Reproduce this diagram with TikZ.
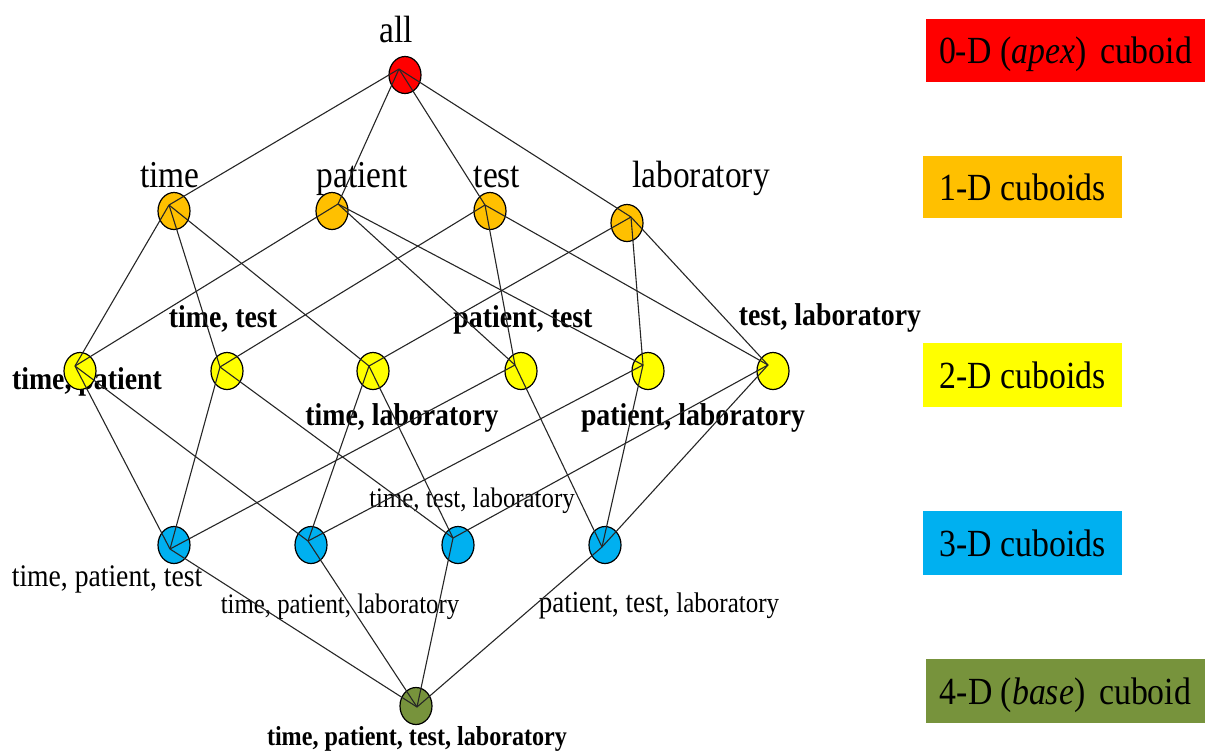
\documentclass[tikz,border=0pt]{standalone}
\usepackage{fontspec}
\setmainfont{Liberation Serif}
\usetikzlibrary{shapes.geometric}

\definecolor{apexred}{HTML}{FF0000}
\definecolor{onedorange}{HTML}{FFC000}
\definecolor{twodyellow}{HTML}{FFFF00}
\definecolor{threedblue}{HTML}{00B0F0}
\definecolor{fourdgreen}{HTML}{77933C}

% slightly condensed lettering
\newcommand{\narrow}[1]{\scalebox{0.88}[1]{#1}}
\newcommand{\fs}[1]{\fontsize{#1}{#1}\selectfont}

\tikzset{
  cub/.style={ellipse, draw=black, line width=0.6pt, inner sep=0pt,
              minimum width=16pt, minimum height=18.5pt},
  lnk/.style={draw=black!85, line width=0.55pt},
  lab/.style={anchor=base, inner sep=0pt},
  labA/.style={lab, font=\fs{19}},
  labB/.style={lab, font=\fs{15.8}\bfseries},
  labC/.style={lab, font=\fs{14.1}},
  legbox/.style={rectangle, inner sep=0pt, text height=13pt, text depth=0pt,
                 font=\fs{19.2}},
}

\begin{document}
\begin{tikzpicture}[x=0.5pt, y=-0.5pt]
\useasboundingbox (0,0) rectangle (1205,752);

% ---- labels (drawn first, lattice lies on top) ----
\node[labA] (a-lab) at (396,42) {\narrow{all}};
\node[labA] (t-lab) at (170,187) {\narrow{time}};
\node[labA] (p-lab) at (362,187) {\narrow{patient}};
\node[labA] (s-lab) at (497,187) {\narrow{test}};
\node[labA] (l-lab) at (701,187) {\narrow{laboratory}};

\node[labB] (tp-lab) at (87,389) {\narrow{time, patient}};
\node[labB] (ts-lab) at (223,327) {\narrow{time, test}};
\node[labB] (ps-lab) at (523,327) {\narrow{patient, test}};
\node[labB] (sl-lab) at (830,325) {\narrow{test, laboratory}};
\node[labB] (tl-lab) at (402,425) {\narrow{time, laboratory}};
\node[labB] (pl-lab) at (693,425) {\narrow{patient, laboratory}};

\node[labC] (tsl-lab) at (472,507) {\narrow{time, test, laboratory}};
\node[lab, font=\fs{15.7}] (tps-lab) at (107,586) {\narrow{time, patient, test}};
\node[labC] (tpl-lab) at (340,613) {\narrow{time, patient, laboratory}};
\node[lab] (psl-lab) at (659,612)
  {\narrow{\fs{15.3}patient, test, \fs{14.2}laboratory}};
\node[lab, font=\fs{13.7}\bfseries] (b-lab) at (417,745)
  {\narrow{time, patient, test, laboratory}};

% ---- cuboids ----
\node[cub, fill=apexred] (a) at (405,75) {};

\node[cub, fill=onedorange] (t) at (174,211) {};
\node[cub, fill=onedorange] (p) at (332,211) {};
\node[cub, fill=onedorange] (s) at (490,211) {};
\node[cub, fill=onedorange] (l) at (627,223) {};

\node[cub, fill=twodyellow] (tp) at (80,371) {};
\node[cub, fill=twodyellow] (ts) at (227,371) {};
\node[cub, fill=twodyellow] (tl) at (373,371) {};
\node[cub, fill=twodyellow] (ps) at (521,371) {};
\node[cub, fill=twodyellow] (pl) at (648,371) {};
\node[cub, fill=twodyellow] (sl) at (773,371) {};

\node[cub, fill=threedblue] (tps) at (174,545) {};
\node[cub, fill=threedblue] (tpl) at (311,545) {};
\node[cub, fill=threedblue] (tsl) at (458,545) {};
\node[cub, fill=threedblue] (psl) at (605,545) {};

\node[cub, fill=fourdgreen] (b) at (416,706) {};

% points inside each cuboid where its links meet
\coordinate (a-h) at (399,69);
\coordinate (t-h) at (169,205);
\coordinate (p-h) at (338,204);
\coordinate (s-h) at (485,205);
\coordinate (l-h) at (631,217);
\coordinate (tp-h) at (75,366);
\coordinate (ts-h) at (220,367);
\coordinate (tl-h) at (369,366);
\coordinate (ps-h) at (515,365);
\coordinate (pl-h) at (643,365);
\coordinate (sl-h) at (768,365);
\coordinate (tps-h) at (170,549);
\coordinate (tpl-h) at (308,541);
\coordinate (tsl-h) at (453,538);
\coordinate (psl-h) at (602,547);
\coordinate (b-h) at (417,707);

% ---- lattice links ----
\foreach \u/\v in {a/t, a/p, a/s, a/l,
                   t/tp, t/ts, t/tl,
                   p/tp, p/ps, p/pl,
                   s/ts, s/ps, s/sl,
                   l/tl, l/pl, l/sl,
                   tp/tps, tp/tpl,
                   ts/tps, ts/tsl,
                   tl/tpl, tl/tsl,
                   ps/tps, ps/psl,
                   pl/tpl, pl/psl,
                   sl/tsl, sl/psl,
                   tps/b, tpl/b, tsl/b, psl/b}
  \draw[lnk] (\u-h) -- (\v-h);

% ---- legend ----
\node[legbox, fill=apexred, minimum width=139.5pt, minimum height=31.5pt]
  (leg0) at (1065.5,50.5) {\narrow{0-D (\textit{apex})\hspace{3pt} cuboid}};
\node[legbox, fill=onedorange, minimum width=99.5pt, minimum height=31pt]
  (leg1) at (1022.5,187) {\narrow{1-D cuboids}};
\node[legbox, fill=twodyellow, minimum width=99.5pt, minimum height=32pt]
  (leg2) at (1022.5,375) {\narrow{2-D cuboids}};
\node[legbox, fill=threedblue, minimum width=99.5pt, minimum height=32pt]
  (leg3) at (1022.5,543) {\narrow{3-D cuboids}};
\node[legbox, fill=fourdgreen, minimum width=139.5pt, minimum height=32pt]
  (leg4) at (1065.5,691) {\narrow{4-D (\textit{base})\hspace{3pt} cuboid}};
\end{tikzpicture}
\end{document}
